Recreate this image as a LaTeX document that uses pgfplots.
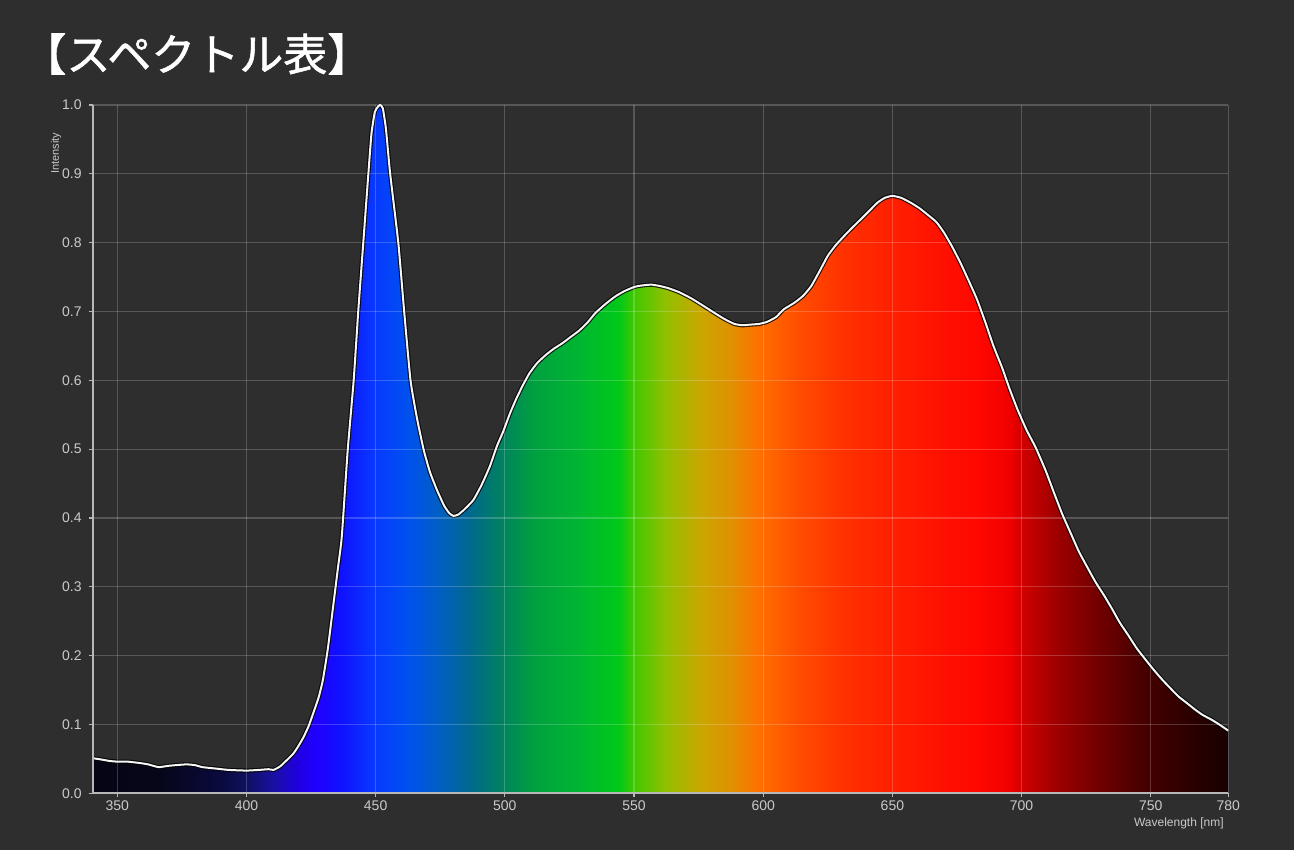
\documentclass[border=0pt]{standalone}
\usepackage{pgfplots}
\pgfplotsset{compat=1.18}
\usepackage{pgfplotstable}
\usepackage{fontspec}
\setmainfont{Liberation Sans}
\newfontfamily\cjk[FakeBold=1.2]{Noto Sans CJK JP}

\definecolor{bg}{HTML}{2E2E2E}
\definecolor{lbl}{HTML}{CACACA}
\definecolor{axl}{HTML}{B8B8B8}
\definecolor{c01}{HTML}{050515}
\definecolor{c02}{HTML}{060619}
\definecolor{c03}{HTML}{0A0A40}
\definecolor{c04}{HTML}{101060}
\definecolor{c05}{HTML}{1A10A0}
\definecolor{c06}{HTML}{2000E0}
\definecolor{c07}{HTML}{2000FF}
\definecolor{c08}{HTML}{1010FF}
\definecolor{c09}{HTML}{0838FF}
\definecolor{c10}{HTML}{0050F0}
\definecolor{c11}{HTML}{0060C0}
\definecolor{c12}{HTML}{006890}
\definecolor{c13}{HTML}{008060}
\definecolor{c14}{HTML}{00A040}
\definecolor{c15}{HTML}{00B830}
\definecolor{c16}{HTML}{00C818}
\definecolor{c17}{HTML}{40C800}
\definecolor{c18}{HTML}{90C000}
\definecolor{c19}{HTML}{C8A800}
\definecolor{c20}{HTML}{E09000}
\definecolor{c21}{HTML}{FF7000}
\definecolor{c22}{HTML}{FF4C00}
\definecolor{c23}{HTML}{FF3000}
\definecolor{c24}{HTML}{FF2000}
\definecolor{c25}{HTML}{FF1000}
\definecolor{c26}{HTML}{FF0800}
\definecolor{c27}{HTML}{EE0000}
\definecolor{c28}{HTML}{D00000}
\definecolor{c29}{HTML}{A00000}
\definecolor{c30}{HTML}{700000}
\definecolor{c31}{HTML}{480000}
\definecolor{c32}{HTML}{300000}
\definecolor{c33}{HTML}{180000}

\pgfdeclarehorizontalshading{spectrum}{100bp}{%
color(0bp)=(c01); color(25bp)=(c01); color(27.90bp)=(c02); color(30.75bp)=(c03);
color(31.77bp)=(c04); color(32.91bp)=(c05); color(34.04bp)=(c06); color(34.84bp)=(c07);
color(35.87bp)=(c08); color(37.34bp)=(c09); color(38.82bp)=(c10); color(40.30bp)=(c11);
color(41.55bp)=(c12); color(42.92bp)=(c13); color(44.40bp)=(c14); color(46.56bp)=(c15);
color(48.15bp)=(c16); color(48.83bp)=(c17); color(50.20bp)=(c18); color(51.68bp)=(c19);
color(53.16bp)=(c20); color(54.30bp)=(c21); color(56.12bp)=(c22); color(58.17bp)=(c23);
color(60.10bp)=(c24); color(62.49bp)=(c25); color(63.97bp)=(c26); color(65.45bp)=(c27);
color(65.91bp)=(c28); color(67.39bp)=(c29); color(69.32bp)=(c30); color(71.14bp)=(c31);
color(72.96bp)=(c32); color(75bp)=(c33); color(100bp)=(c33)}

\pgfplotstableread{
nm val
340.5 0.051
344 0.049
347 0.047
350 0.046
354 0.046
358.7 0.044
362 0.042
366 0.038
370 0.040
376.6 0.042
380 0.041
383 0.038
388 0.036
393 0.034
400 0.033
405 0.034
408.5 0.035
410.5 0.034
413 0.039
415 0.046
418 0.057
420 0.068
422 0.081
424 0.097
426 0.118
428 0.140
429.6 0.165
431.5 0.210
433.5 0.270
435.5 0.330
436.9 0.373
439.2 0.499
441.5 0.600
443.3 0.702
445.2 0.799
447.2 0.901
448.4 0.959
449.7 0.990
451 0.998
451.8 1.000
452.8 0.995
454 0.965
455.6 0.901
458.8 0.799
461 0.702
463.5 0.600
466 0.545
468.6 0.499
471 0.467
473.7 0.441
476.5 0.418
478.5 0.407
480.1 0.403
482 0.405
484.5 0.413
487.8 0.426
491 0.448
494.2 0.475
497 0.505
499.3 0.525
502 0.552
504.4 0.573
507 0.593
509.5 0.610
512.5 0.625
515.9 0.637
519 0.646
522.3 0.654
525.5 0.663
528.7 0.672
532 0.684
535.1 0.698
539 0.711
542.8 0.722
546.5 0.730
550.4 0.736
553.5 0.738
556.8 0.739
560 0.737
563.2 0.734
567.5 0.728
572.2 0.719
576.5 0.709
581.1 0.698
585 0.689
588.8 0.682
592 0.680
595.2 0.681
598.5 0.682
601.5 0.685
605 0.692
607.9 0.703
612.2 0.713
615.5 0.723
618.6 0.737
622 0.760
625 0.781
628 0.796
631.4 0.810
634.5 0.822
637.8 0.834
641 0.846
644.2 0.858
647 0.865
650 0.868
653.5 0.865
657.1 0.858
660.5 0.850
663.5 0.841
667 0.830
669.9 0.815
673 0.795
676.3 0.771
679.5 0.745
682.7 0.718
686 0.684
689.1 0.650
692.5 0.618
695.5 0.586
698.5 0.557
701.9 0.528
705.5 0.502
709.4 0.468
712.5 0.437
715.8 0.405
719 0.378
722.2 0.351
725.5 0.328
728.6 0.307
732 0.287
735 0.268
738 0.248
741.4 0.229
744.5 0.211
747.8 0.195
751 0.180
754.2 0.166
757.5 0.153
760.6 0.141
764 0.131
767 0.122
770 0.114
773.5 0.107
776.5 0.100
780 0.091
}\spec

\begin{document}
\begin{tikzpicture}
\fill[bg] (0,0) rectangle (647pt,425pt);
\node[anchor=west, inner sep=0pt, text=white, font=\cjk\fontsize{22}{24}\selectfont] at (11pt,398pt) {【スペクトル表】};
\begin{axis}[
  at={(46.35pt,28.35pt)}, anchor=south west,
  scale only axis, width=567.8pt, height=344.15pt,
  xmin=340.5, xmax=780, ymin=0, ymax=1,
  xtick={350,400,450,500,550,600,650,700,750,780},
  ytick={0,0.1,...,1.0},
  yticklabel style={/pgf/number format/.cd, fixed, fixed zerofill, precision=1},
  /pgf/number format/assume math mode=true,
  axis on top,
  grid=major,
  major grid style={white, opacity=0.2, line width=0.6pt},
  axis x line*=bottom, axis y line*=left,
  axis line style={axl, line width=0.8pt, -},
  tick align=outside, major tick length=2pt,
  tick style={axl, line width=0.6pt},
  tick label style={text=lbl, font=\fontsize{7}{8}\selectfont},
  xticklabel style={yshift=2pt},
]
\addplot[draw=none, shade, shading=spectrum, smooth, tension=0.3] table[x=nm, y=val] {\spec} \closedcycle;
\addplot[black, opacity=0.85, line width=2.1pt, line join=round, smooth, tension=0.3] table[x=nm, y=val] {\spec};
\addplot[white!92!gray, line width=1pt, line join=round, smooth, tension=0.3] table[x=nm, y=val] {\spec};
\end{axis}
\node[rotate=90, text=lbl, font=\fontsize{5.5}{6}\selectfont, inner sep=0pt] at (28pt,348.5pt) {Intensity};
\node[anchor=east, text=lbl, font=\fontsize{6}{7}\selectfont, inner sep=0pt] at (612pt,13.5pt) {Wavelength [nm]};
\pgfresetboundingbox
\path[use as bounding box] (0,0) rectangle (647pt,425pt);
\end{tikzpicture}
\end{document}
